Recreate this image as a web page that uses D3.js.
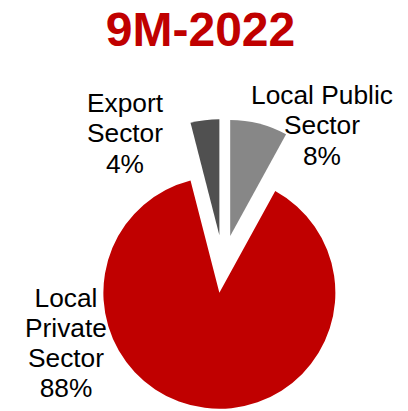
<!DOCTYPE html>
<html>
<head>
<meta charset="utf-8">
<script src="https://cdn.jsdelivr.net/npm/d3@7"></script>
<style>
  body { margin: 0; background: #fff; }
  svg { display: block; font-family: "Liberation Sans", Arial, sans-serif; }
</style>
</head>
<body>
<div id="content"></div>
<script>
var width = 408;
var height = 411;

// data
var title = "9M-2022";
var sectors = ["Local Public Sector", "Local Private Sector", "Export Sector"];
var shares = [8, 88, 4];
var labelLines = [
    ["Local Public", "Sector", "8%"],
    ["Local", "Private", "Sector", "88%"],
    ["Export", "Sector", "4%"]
];
var colors = ["#878787", "#C00000", "#505050"];

// label anchor (centre x, first baseline y), layout only
var labelPos = [[322, 104], [66, 306.5], [125, 112]];

var cx = 223, cy = 264, radius = 116, explode = 29;
var lineHeight = 30.3;

var svg = d3.select("#content").append("svg")
    .attr("width", width)
    .attr("height", height);

svg.append("text")
    .attr("x", 200.5)
    .attr("y", 46)
    .attr("text-anchor", "middle")
    .style("font-size", "48px")
    .style("font-weight", "bold")
    .style("fill", "#C00000")
    .text(title);

var pie = d3.pie()
    .sort(null)
    .value(d => d);

var arc = d3.arc()
    .innerRadius(0)
    .outerRadius(radius);

var g = svg.append("g")
    .attr("transform", `translate(${cx}, ${cy})`);

g.selectAll("path")
    .data(pie(shares))
    .enter()
    .append("path")
    .attr("d", arc)
    .attr("fill", (d, i) => colors[i])
    .attr("transform", function (d) {
        var mid = (d.startAngle + d.endAngle) / 2;
        return `translate(${explode * Math.sin(mid)}, ${-explode * Math.cos(mid)})`;
    });

var labels = svg.selectAll(".label")
    .data(labelLines)
    .enter()
    .append("text")
    .attr("class", "label")
    .attr("text-anchor", "middle")
    .style("font-size", "26.3px")
    .style("fill", "#000");

labels.each(function (lines, i) {
    d3.select(this).selectAll("tspan")
        .data(lines)
        .enter()
        .append("tspan")
        .attr("x", labelPos[i][0])
        .attr("y", (d, j) => labelPos[i][1] + j * lineHeight)
        .text(d => d);
});
</script>
</body>
</html>
